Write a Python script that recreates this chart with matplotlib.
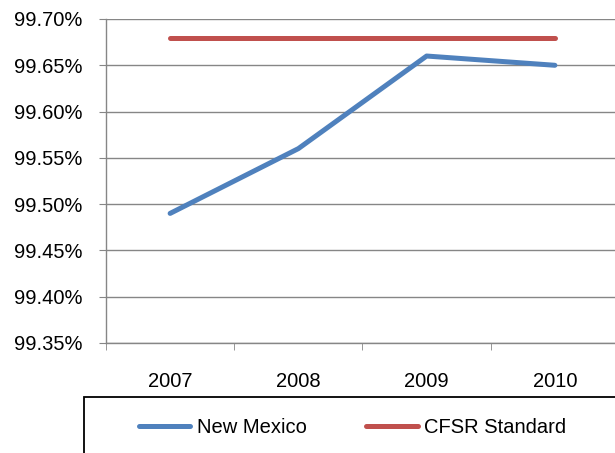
import matplotlib
matplotlib.use("Agg")
import matplotlib.pyplot as plt
from matplotlib.patches import Rectangle
from matplotlib.ticker import FuncFormatter, MultipleLocator

years = ["2007", "2008", "2009", "2010"]
new_mexico = [99.49, 99.56, 99.66, 99.65]
cfsr_standard = [99.68, 99.68, 99.68, 99.68]

plt.rcParams['font.family'] = ['Liberation Sans', 'DejaVu Sans']
FS = 14.5

W, H = 615, 453
fig = plt.figure(figsize=(W/100, H/100), dpi=100)
left, right, top, bottom = 106, 619, 19, 343
ax = fig.add_axes([left/W, 1-bottom/H, (right-left)/W, (bottom-top)/H])

x = list(range(len(years)))
l1, = ax.plot(x, new_mexico, color="#4F81BD", lw=3.6, solid_capstyle='round', label="New Mexico")
l2, = ax.plot(x, cfsr_standard, color="#C0504D", lw=3.6, solid_capstyle='round', label="CFSR Standard")

ax.set_xlim(-0.5, len(years)-0.5)
ax.set_ylim(99.35, 99.70)
ax.yaxis.set_major_locator(MultipleLocator(0.05))
ax.yaxis.set_major_formatter(FuncFormatter(lambda v, p: f"{v:.2f}%"))
ax.set_xticks(x)
ax.set_xticklabels(years)
ax.set_xticks([i-0.5 for i in range(len(years)+1)], minor=True)
ax.tick_params(axis='x', which='major', length=0, pad=21, labelsize=FS)
ax.tick_params(axis='x', which='minor', length=5, color="#868686", direction='out')
ax.tick_params(axis='y', which='major', length=5, color="#868686", direction='out', labelsize=FS, pad=12)
ax.grid(axis='y', color="#868686", lw=1)
ax.set_axisbelow(True)
for s in ['top', 'right']:
    ax.spines[s].set_visible(False)
for s in ['left', 'bottom']:
    ax.spines[s].set_color("#868686")
    ax.spines[s].set_linewidth(1)

fig.patches.append(Rectangle((83.5/W, -0.1), 1.0, (H-397.3)/H + 0.1, transform=fig.transFigure,
                             fill=False, edgecolor='black', lw=1.3))
fig.legend(handles=[l1, l2], loc='center left', bbox_to_anchor=(139/W, 1-427.3/H), ncol=2,
           frameon=False, fontsize=FS, handlelength=2.55, handletextpad=0.33,
           columnspacing=2.95, borderaxespad=0, borderpad=0)

fig.savefig("out.png", dpi=100)
